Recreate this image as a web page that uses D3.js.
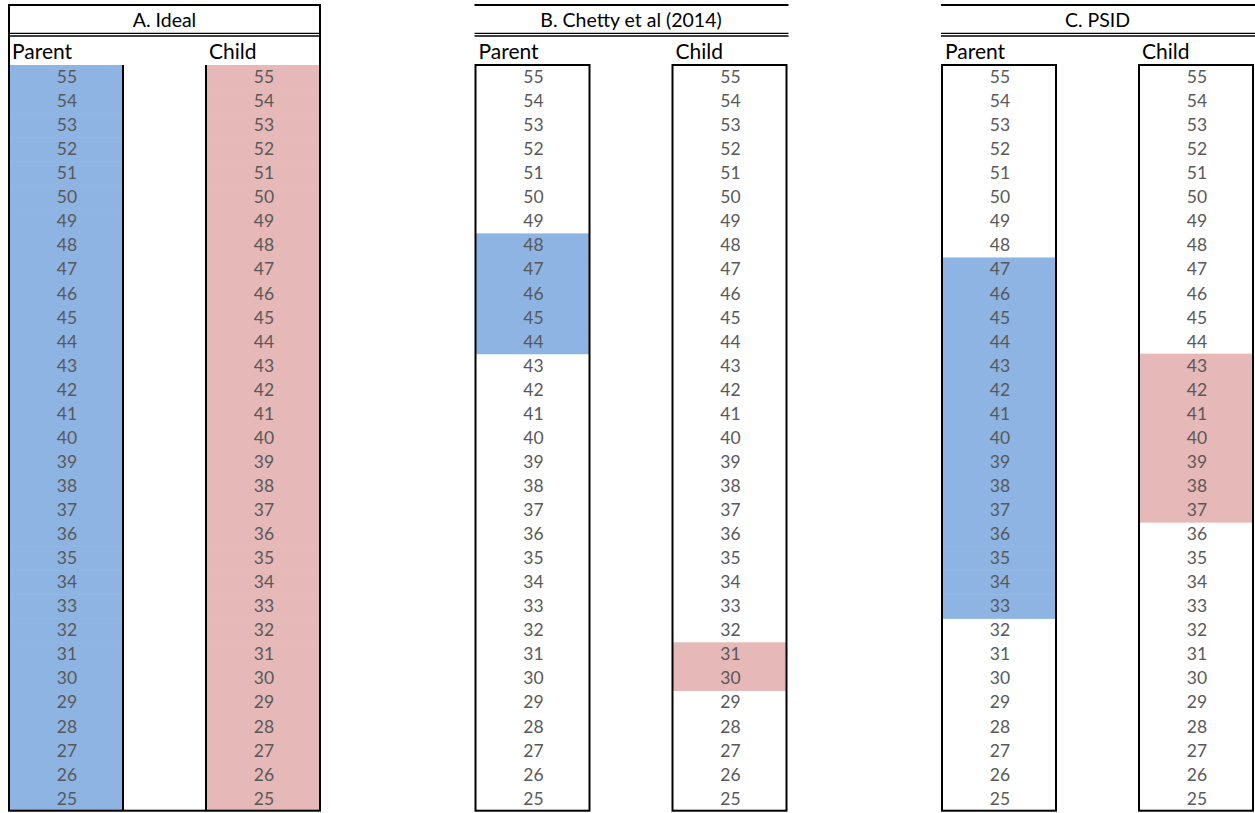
<!DOCTYPE html>
<html>
<head>
<meta charset="utf-8">
<script src="https://cdn.jsdelivr.net/npm/d3@7"></script>
<style>
  html, body { margin: 0; padding: 0; background: #fff; }
  svg { display: block; font-family: Lato, "Open Sans", sans-serif; }
</style>
</head>
<body>
<svg id="chart" width="1255" height="813"></svg>
<script>
// ---- data ----
const ages = [55,54,53,52,51,50,49,48,47,46,45,44,43,42,41,40,39,38,37,36,35,34,33,32,31,30,29,28,27,26,25];
const panels = ["A. Ideal", "B. Chetty et al (2014)", "C. PSID"];
const columns = ["Parent", "Child"];
const parentRange = [[25, 55], [44, 48], [33, 47]];
const childRange  = [[25, 55], [30, 31], [37, 43]];

const colors = { Parent: "#8db4e2", Child: "#e6b8b7" };

const svg = d3.select("#chart");

const y = d3.scaleBand().domain(ages).range([65, 810.7]).padding(0);
const px = d3.scalePoint().domain(panels).range([9, 942]);
const colX = d3.scaleOrdinal().domain(columns).range([0, 197]);
const colW = 114;
const panelW = 311;

panels.forEach((p, i) => {
  const left = px(p);
  const g = svg.append("g");
  const ranges = { Parent: parentRange[i], Child: childRange[i] };

  columns.forEach(c => {
    const x0 = left + colX(c);
    const [lo, hi] = ranges[c];
    const filled = ages.filter(a => a >= lo && a <= hi);
    // fills
    g.selectAll(null).data(filled).enter().append("rect")
      .attr("x", x0).attr("y", d => y(d))
      .attr("width", colW).attr("height", y.bandwidth() + 0.6)
      .attr("fill", colors[c]);
    // numbers
    g.selectAll(null).data(ages).enter().append("text")
      .attr("x", x0 + colW / 2 + 1)
      .attr("y", d => y(d) + y.bandwidth() / 2 + 6)
      .attr("text-anchor", "middle")
      .attr("font-size", 17.5)
      .attr("fill", "#595959")
      .text(d => d);
    // column label
    g.append("text")
      .attr("x", x0 + (c === "Parent" ? 3 : 3))
      .attr("y", 59)
      .attr("font-size", 21)
      .attr("fill", "#000")
      .text(c);
  });

  // borders
  if (i === 0) {
    g.append("rect").attr("x", left).attr("y", 5)
      .attr("width", panelW).attr("height", 810.7 - 5)
      .attr("fill", "none").attr("stroke", "#000").attr("stroke-width", 2);
    g.append("line").attr("x1", left + colW).attr("x2", left + colW)
      .attr("y1", 65).attr("y2", 810.7).attr("stroke", "#000").attr("stroke-width", 2);
    g.append("line").attr("x1", left + colX("Child")).attr("x2", left + colX("Child"))
      .attr("y1", 65).attr("y2", 810.7).attr("stroke", "#000").attr("stroke-width", 2);
  } else {
    g.append("line").attr("x1", left - 1).attr("x2", left + panelW + 2)
      .attr("y1", 5).attr("y2", 5).attr("stroke", "#000").attr("stroke-width", 2);
    columns.forEach(c => {
      g.append("rect").attr("x", left + colX(c)).attr("y", 65)
        .attr("width", colW).attr("height", 810.7 - 65)
        .attr("fill", "none").attr("stroke", "#000").attr("stroke-width", 2);
    });
  }
  // double line under title
  [33.3, 36].forEach(yy => {
    g.append("line").attr("x1", left - 1).attr("x2", left + panelW + (i === 0 ? 1 : 2))
      .attr("y1", yy).attr("y2", yy).attr("stroke", "#000").attr("stroke-width", 1.3);
  });
  // title
  g.append("text")
    .attr("x", left + panelW / 2)
    .attr("y", 26.5)
    .attr("text-anchor", "middle")
    .attr("font-size", 19.5)
    .attr("fill", "#000")
    .text(p);
});
</script>
</body>
</html>
